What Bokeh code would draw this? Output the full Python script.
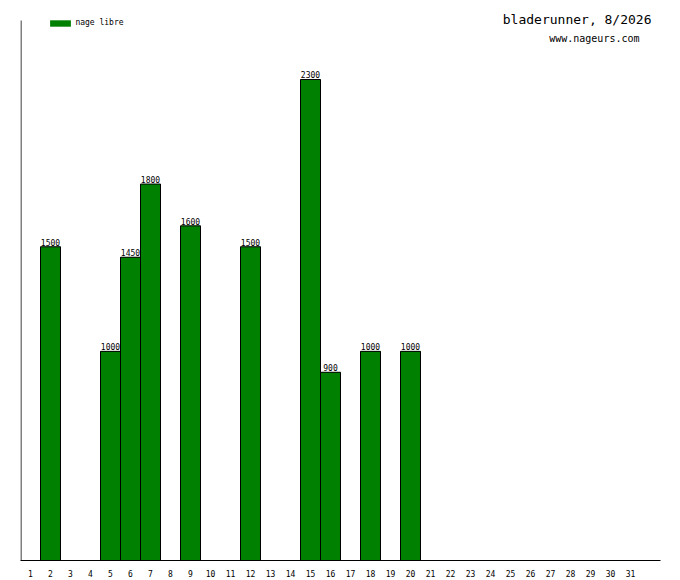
from bokeh.plotting import figure
from bokeh.models import (ColumnDataSource, FixedTicker, Label, Legend, LegendItem, Range1d)
from bokeh.core.properties import value
from bokeh.embed import file_html
from bokeh.resources import INLINE

days = [2, 5, 6, 7, 9, 12, 15, 16, 18, 20]
values = [1500, 1000, 1450, 1800, 1600, 1500, 2300, 900, 1000, 1000]
tick_days = list(range(1, 32))
series_name = "nage libre"
title_text = "bladerunner, 8/2026"
subtitle_text = "www.nageurs.com"

FONT = "DejaVu Sans Mono"
GREEN = "#008000"

X_START, X_END = 0.5, 32.5
AXIS_X = X_START + 0.025  # half a pixel in, so the 1px line is crisp
AXIS_TOP = 2582          # value at the top of the drawn y axis line
VIEW_TOP = 2677.6        # value at the top of the canvas

src = ColumnDataSource(dict(x=days, top=values, lab=[str(v) for v in values]))

p = figure(width=680, height=580, output_backend="svg", toolbar_location=None,
           x_range=Range1d(X_START, X_END), y_range=Range1d(0, VIEW_TOP),
           min_border_left=20, min_border_right=20, min_border_top=0,
           min_border_bottom=20)
p.outline_line_color = None
p.grid.visible = False
p.background_fill_color = "white"

# left axis line, from 0 to the top of the axis
p.segment(x0=[AXIS_X], y0=[0], x1=[AXIS_X], y1=[AXIS_TOP],
          line_color="black", line_width=1)

# value labels (drawn first, so neighbouring bars may cover them)
p.text(x="x", y="top", text="lab", source=src, text_align="center",
       text_baseline="bottom", y_offset=-1, text_font=value(FONT),
       text_font_size="8px", text_color="black")

# legend proxy: same bars without outline, hidden behind the real ones
lr = p.vbar(x="x", top="top", width=1.0, bottom=0, source=src,
            fill_color=GREEN, line_color=None)

p.vbar(x="x", top="top", width=1.0, bottom=0, source=src,
       fill_color=GREEN, line_color="black", line_width=1)

legend = Legend(items=[LegendItem(label=series_name, renderers=[lr])],
                location=(27.4, 532.8), glyph_width=26, glyph_height=8,
                label_height=8, label_standoff=2, padding=0, spacing=0,
                margin=0, border_line_color=None, background_fill_alpha=0,
                label_text_font=FONT, label_text_font_size="8px",
                label_text_color="black")
p.add_layout(legend, "center")

p.xaxis.ticker = FixedTicker(ticks=tick_days)
p.xaxis.major_tick_line_color = None
p.xaxis.minor_tick_line_color = None
p.xaxis.major_tick_out = 0
p.xaxis.major_tick_in = 0
p.xaxis.major_label_standoff = 9
p.xaxis.major_label_text_font = FONT
p.xaxis.major_label_text_font_size = "8px"
p.xaxis.major_label_text_color = "black"
p.xaxis.axis_line_color = "black"

p.yaxis.visible = False

p.add_layout(Label(x=631, y=549, x_units="screen", y_units="screen",
                   text=title_text, text_align="right", text_baseline="top",
                   text_font=FONT, text_font_size="13px", text_color="black"))
p.add_layout(Label(x=619, y=522.5, x_units="screen", y_units="screen",
                   text=subtitle_text, text_align="right", text_baseline="middle",
                   text_font=FONT, text_font_size="10px", text_color="black"))

open("out.html", "w").write(file_html(p, INLINE))
